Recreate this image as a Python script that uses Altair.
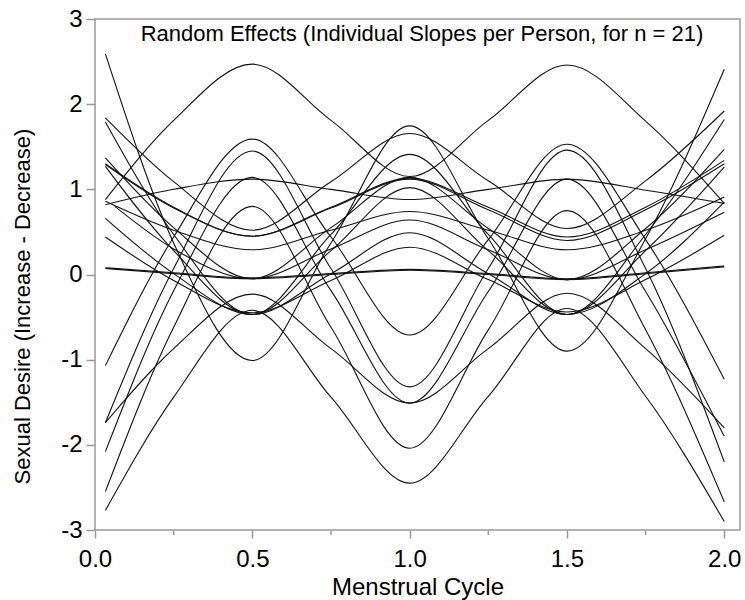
import altair as alt
import pandas as pd

# x positions (fraction of menstrual cycle) where each curve was read
x_grid = [0.033, 0.25, 0.5, 0.75, 1.0, 1.25, 1.5, 1.75, 2.0]
x_grid_late = [0.063, 0.25, 0.5, 0.75, 1.0, 1.25, 1.5, 1.75, 2.0]

# persons whose curve peaks at 0.5 / 1.5
p01 = [0.88, 1.81, 2.47, 1.81, 1.15, 1.81, 2.46, 1.80, 0.835]
p02 = [0.82, 1.00, 1.12, 1.00, 0.88, 1.00, 1.12, 0.99, 0.835]
p03 = [-1.07, 0.44, 1.59, 0.44, -0.71, 0.41, 1.53, 0.41, -1.23]
p04 = [-1.74, 0.07, 1.45, 0.07, -1.32, 0.07, 1.46, 0.07, -2.20]
p05 = [-2.08, -0.19, 1.14, -0.19, -1.51, -0.20, 1.12, -0.20, -1.90]
p06 = [-2.55, -0.62, 0.80, -0.62, -2.04, -0.65, 0.75, -0.65, -2.67]
p07 = [-1.74, -0.87, -0.23, -0.87, -1.51, -0.87, -0.22, -0.87, -1.80]
p08 = [-2.77, -1.44, -0.42, -1.44, -2.45, -1.43, -0.40, -1.43, -2.90]
# persons whose curve dips at 0.5 / 1.5
p09 = [2.59, 0.37, -1.01, 0.37, 1.745, 0.42, -0.90, 0.42, 2.41]
p10 = [1.84, 1.09, 0.52, 1.09, 1.655, 1.10, 0.54, 1.10, 1.92]
p11 = [1.79, 0.47, -0.47, 0.47, 1.41, 0.47, -0.47, 0.47, 1.82]
p12 = [1.37, 0.55, -0.05, 0.55, 1.14, 0.54, -0.06, 0.54, 1.47]
p13 = [1.30, 0.79, 0.45, 0.79, 1.13, 0.79, 0.44, 0.79, 1.34]
p14 = [1.29, 0.78, 0.45, 0.78, 1.12, 0.76, 0.40, 0.76, 1.30]
p15 = [1.27, 0.28, -0.47, 0.28, 1.02, 0.28, -0.47, 0.28, 1.26]
p16 = [0.86, 0.52, 0.29, 0.52, 0.74, 0.52, 0.29, 0.52, 0.91]
p17 = [0.80, 0.30, -0.05, 0.30, 0.64, 0.29, -0.06, 0.29, 0.73]
p18 = [0.66, 0.01, -0.47, 0.01, 0.49, 0.01, -0.47, 0.01, 0.85]
p19 = [0.44, -0.07, -0.45, -0.07, 0.32, -0.06, -0.44, -0.06, 0.46]
p20 = [0.08, 0.02, -0.04, 0.01, 0.06, 0.01, -0.05, 0.02, 0.10]
p21 = [0.07, 0.01, -0.05, 0.00, 0.05, 0.00, -0.06, 0.01, 0.09]

persons = [p01, p02, p03, p04, p05, p06, p07, p08, p09, p10, p11,
           p12, p13, p14, p15, p16, p17, p18, p19, p20, p21]
late_start = {17}

x_ticks = [0.0, 0.5, 1.0, 1.5, 2.0]
x_minor_ticks = [0.25, 0.75, 1.25, 1.75]
y_ticks = [-3, -2, -1, 0, 1, 2, 3]

title_text = "Random Effects (Individual Slopes per Person, for n = 21)"
x_title = "Menstrual Cycle"
y_title = "Sexual Desire (Increase - Decrease)"

rows = []
for i, vals in enumerate(persons, start=1):
    xs = x_grid_late if i in late_start else x_grid
    for xv, yv in zip(xs, vals):
        rows.append({"person": f"P{i:02d}", "x": xv, "y": yv})
df = pd.DataFrame(rows)

W, H = 645, 511
FONT = "Liberation Sans"
GRAY = "#9a9a9a"

xscale = alt.Scale(domain=[0, 2.05], nice=False, zero=False)
yscale = alt.Scale(domain=[-3, 3], nice=False, zero=False)

lines = alt.Chart(df).mark_line(
    interpolate="monotone", color="#111111", strokeWidth=1.1, clip=True
).encode(
    x=alt.X("x:Q", scale=xscale, axis=alt.Axis(
        values=x_ticks, labelExpr="format(datum.value, '.1f')", labelFlush=False,
        title=x_title, titleFontSize=24, titleFont=FONT, titleFontWeight="normal",
        titleColor="black", titlePadding=4,
        labelFontSize=24, labelFont=FONT, labelColor="black", labelPadding=9,
        tickSize=8, tickColor=GRAY, tickWidth=1.5, domain=False, grid=False,
    )),
    y=alt.Y("y:Q", scale=yscale, axis=alt.Axis(
        values=y_ticks, labelExpr="'' + datum.value",
        title=y_title, titleFontSize=22, titleFont=FONT, titleFontWeight="normal",
        titleColor="black", titleX=-66, titleY=287, titleAngle=270,
        titleBaseline="alphabetic", titleAlign="center",
        labelFontSize=24, labelFont=FONT, labelColor="black", labelPadding=4,
        tickSize=9, tickColor=GRAY, tickWidth=1.5, domain=False, grid=False,
    )),
    detail="person:N",
)

minor = alt.Chart(pd.DataFrame({"x": x_minor_ticks})).mark_rule(
    color=GRAY, strokeWidth=1.5
).encode(
    x=alt.X("x:Q", scale=xscale),
    y=alt.value(H),
    y2=alt.value(H + 5),
)

title = alt.Chart(pd.DataFrame({"t": [title_text]})).mark_text(
    font=FONT, fontSize=22, color="black", align="center", baseline="alphabetic"
).encode(
    text="t:N",
    x=alt.value(327),
    y=alt.value(22),
)

chart = alt.layer(lines, minor, title).properties(
    width=W, height=H,
    padding={"left": 95, "top": 19, "right": 5, "bottom": 70},
    autosize=alt.AutoSizeParams(type="none"),
).configure_view(stroke=GRAY, strokeWidth=1.5)

chart.save("out.html", embed_options={"renderer": "svg", "actions": False})
